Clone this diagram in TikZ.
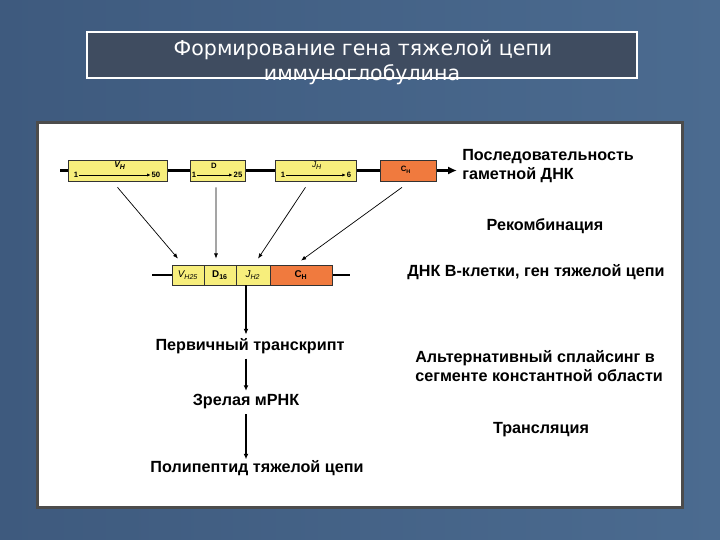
\documentclass[tikz,border=0pt]{standalone}
\usepackage{fontspec}
\setmainfont{Liberation Sans}
\newfontfamily\titlefont{DejaVu Sans}
\usetikzlibrary{arrows.meta, positioning}

\definecolor{slide-dark}{HTML}{3E5A7E}
\definecolor{slide-light}{HTML}{4B6B90}
\definecolor{titlefill}{HTML}{3F4C60}
\definecolor{segyellow}{HTML}{F7EE7C}
\definecolor{segorange}{HTML}{F07A3E}

\begin{document}
\begin{tikzpicture}[
  x=0.25mm, y=-0.25mm,
  font=\bfseries\fontsize{11.5}{13.5}\selectfont,
  >={Latex[length=1.6mm]},
  seg/.style={draw=black!80, line width=0.5pt, fill=segyellow,
              minimum height=5.25mm, inner sep=0pt},
  seg-C/.style={seg, fill=segorange},
  rec/.style={seg, minimum height=5mm},
  rec-C/.style={rec, fill=segorange},
  tiny/.style={font=\bfseries\fontsize{5.5}{6}\selectfont, inner sep=0.5pt},
  small/.style={font=\bfseries\fontsize{7}{7}\selectfont, inner sep=0pt},
  dna/.style={line width=2pt, black},
  recomb/.style={->, >={Latex[length=1.3mm, width=1mm]}, line width=0.5pt},
  flow/.style={->, >={Latex[length=1.4mm, width=1.2mm]}, line width=1.5pt},
  lbl/.style={align=left, inner sep=0pt},
  title-txt/.style={text=white, font=\titlefont\fontsize{14.6}{16}\selectfont}
]
  \useasboundingbox (0,0) rectangle (720,540);

  % ===========================================================
  % Slide background, title and white panel
  % ===========================================================
  \shade[left color=slide-dark, right color=slide-light]
    (0,0) rectangle (720,540);

  \node[draw=white, line width=1.2pt, fill=titlefill,
        minimum width=137.5mm, minimum height=11.5mm] (title-box) at (362,55) {};
  \node[title-txt] (title-1) at (363,50) {Формирование гена тяжелой цепи};
  \node[title-txt] (title-2) at (362,75) {иммуноглобулина};

  \fill[black!70] (36,121) rectangle (684,509);
  \fill[white] (39,124) rectangle (681,506);

  % ===========================================================
  % Germline DNA
  % ===========================================================
  \coordinate (top-start) at (60,170.5);
  \coordinate (top-end)   at (457,170.5);
  \draw[dna, ->, >={Latex[length=2.2mm, width=2mm]}] (top-start) -- (top-end);

  \node[seg,   minimum width=24.75mm] (seg-V) at (117.5,170.5) {};
  \node[seg,   minimum width=13.75mm] (seg-D) at (217.5,170.5) {};
  \node[seg,   minimum width=20.25mm] (seg-J) at (315.5,170.5) {};
  \node[seg-C, minimum width=14mm]    (seg-C) at (408,170.5) {};

  % labels inside the segments
  \node[tiny, font=\bfseries\itshape\fontsize{6}{6}\selectfont] (v-name) at (120,166) {V\textsubscript{H}};
  \node[tiny] (v-one)   at (76,175)  {1};
  \node[tiny] (v-fifty) at (156,175) {50};
  \draw[recomb, >={Latex[length=0.9mm, width=0.8mm]}] (v-one) -- (v-fifty);

  \node[tiny] (d-name)  at (214,166) {D};
  \node[tiny] (d-one)   at (194,175) {1};
  \node[tiny] (d-last)  at (238,175) {25};
  \draw[recomb, >={Latex[length=0.9mm, width=0.8mm]}] (d-one) -- (d-last);

  \node[tiny, font=\itshape\fontsize{6}{6}\selectfont] (j-name) at (317,166) {J\textsubscript{H}};
  \node[tiny] (j-one)   at (283,175) {1};
  \node[tiny] (j-last)  at (349,175) {6};
  \draw[recomb, >={Latex[length=0.9mm, width=0.8mm]}] (j-one) -- (j-last);

  \node[tiny] (c-name)  at (406,170) {C\textsubscript{H}};

  \node[lbl, anchor=north west] (germline) at (462,149)
    {Последовательность\\гаметной ДНК};
  \node (recomb-lbl) at (545,226) {Рекомбинация};

  % ===========================================================
  % Rearranged B-cell DNA
  % ===========================================================
  \coordinate (bot-start) at (152,275);
  \coordinate (bot-end)   at (350,275);
  \draw[dna] (bot-start) -- (bot-end);

  \node[rec,   minimum width=8mm]    (rec-V) at (188,275) {};
  \node[rec,   minimum width=8mm]    (rec-D) at (220,275) {};
  \node[rec,   minimum width=8.5mm]  (rec-J) at (253,275) {};
  \node[rec-C, minimum width=15.5mm] (rec-C) at (301,275) {};

  \node[small, font=\itshape\fontsize{7}{7}\selectfont] at (rec-V) {V\textsubscript{H25}};
  \node[small] at (rec-D) {D\textsubscript{16}};
  \node[small, font=\itshape\fontsize{7}{7}\selectfont] at (rec-J) {J\textsubscript{H2}};
  \node[small] at (rec-C) {C\textsubscript{H}};

  \node (bcell) at (536,272) {ДНК В-клетки, ген тяжелой цепи};

  % recombination arrows
  \draw[recomb] ([yshift=-1.5mm]seg-V.south) -- ([xshift=-2.5mm, yshift=1.5mm]rec-V.north);
  \draw[recomb] ([xshift=-0.4mm, yshift=-1.5mm]seg-D.south) -- ([xshift=-1mm, yshift=1.5mm]rec-D.north);
  \draw[recomb] ([xshift=-2.5mm, yshift=-1.5mm]seg-J.south) -- ([xshift=1.25mm, yshift=1.5mm]rec-J.north);
  \draw[recomb] ([xshift=-1.5mm, yshift=-1.5mm]seg-C.south) -- ([yshift=1mm]rec-C.north);

  % ===========================================================
  % Transcription and translation
  % ===========================================================
  \node (primary) at (250,346) {Первичный транскрипт};
  \node (mrna)    at (246,402) {Зрелая мРНК};
  \node (poly)    at (257,468) {Полипептид тяжелой цепи};

  \draw[flow] (rec-J.south -| mrna.north) -- ([yshift=-0.3mm]primary.north -| mrna.north);
  \draw[flow] (primary.south -| mrna.north) -- ([yshift=-0.3mm]mrna.north);
  \draw[flow] (mrna.south) -- ([yshift=-1mm]poly.north -| mrna.south);

  \node[lbl, anchor=north west] (splice) at (415,350)
    {Альтернативный сплайсинг в\\сегменте константной области};
  \node (transl) at (541,430) {Трансляция};

\end{tikzpicture}
\end{document}
